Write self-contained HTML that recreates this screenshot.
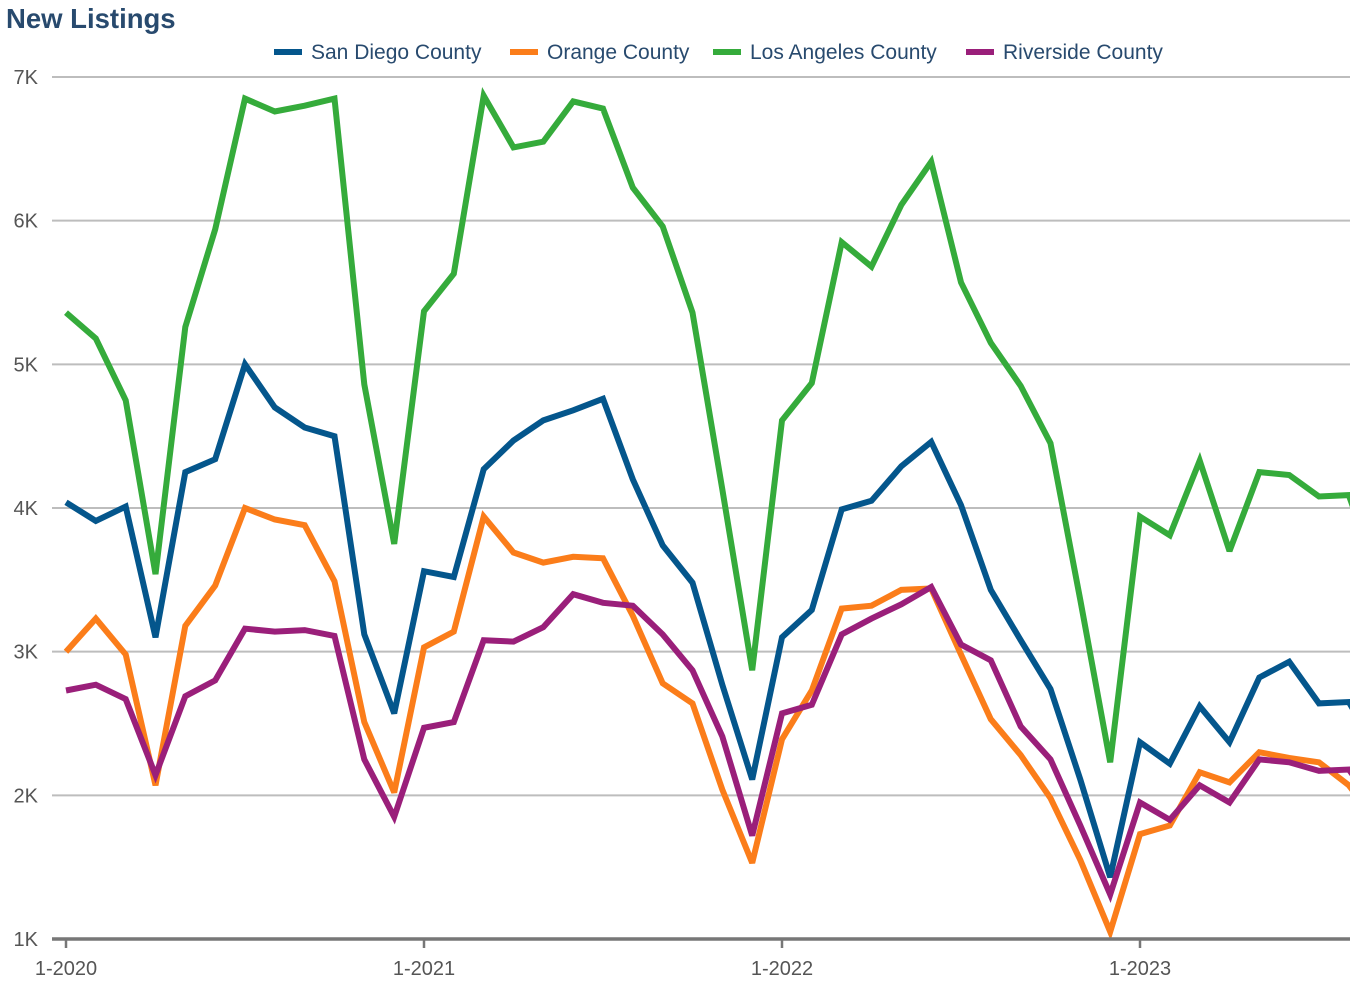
<!DOCTYPE html>
<html><head><meta charset="utf-8"><style>
html,body{margin:0;padding:0;background:#fff;}
body{width:1350px;height:982px;overflow:hidden;font-family:"Liberation Sans",sans-serif;}
</style></head><body>
<svg id="chart" width="1350" height="982" xmlns="http://www.w3.org/2000/svg" style="position:absolute;left:0;top:0">
<text x="6" y="28" font-size="27.5" font-weight="bold" fill="#284a6e" font-family="Liberation Sans, sans-serif">New Listings</text>
<g id="legend"></g>
<g id="grid"></g>
<g id="series"></g>
<g id="axes"></g>
</svg>
<script>
const seriesNames = ["San Diego County","Orange County","Los Angeles County","Riverside County"];
const seriesColors = ["#04568c","#fb7d1a","#35ab3b","#9a1f7a"];
const sanDiego = [4.04,3.91,4.01,3.10,4.25,4.34,5.00,4.70,4.56,4.50,3.12,2.57,3.56,3.52,4.27,4.47,4.61,4.68,4.76,4.20,3.74,3.48,2.77,2.11,3.10,3.29,3.99,4.05,4.29,4.46,4.02,3.43,3.08,2.74,2.11,1.43,2.37,2.22,2.62,2.37,2.82,2.93,2.64,2.65,2.3];
const orange = [3.00,3.23,2.98,2.07,3.18,3.46,4.00,3.92,3.88,3.49,2.51,2.02,3.03,3.14,3.94,3.69,3.62,3.66,3.65,3.25,2.78,2.64,2.04,1.53,2.39,2.73,3.30,3.32,3.43,3.44,2.98,2.53,2.28,1.98,1.55,1.05,1.73,1.79,2.16,2.09,2.30,2.26,2.23,2.07,1.8];
const losAngeles = [5.36,5.18,4.75,3.54,5.26,5.94,6.85,6.76,6.80,6.85,4.86,3.75,5.37,5.63,6.87,6.51,6.55,6.83,6.78,6.23,5.96,5.36,4.13,2.87,4.61,4.87,5.85,5.68,6.11,6.41,5.57,5.15,4.85,4.45,3.36,2.23,3.94,3.81,4.33,3.70,4.25,4.23,4.08,4.09,3.5];
const riverside = [2.73,2.77,2.67,2.14,2.69,2.80,3.16,3.14,3.15,3.11,2.25,1.85,2.47,2.51,3.08,3.07,3.17,3.40,3.34,3.32,3.12,2.87,2.41,1.72,2.57,2.63,3.12,3.23,3.33,3.45,3.05,2.94,2.48,2.25,1.79,1.31,1.95,1.83,2.07,1.95,2.25,2.23,2.17,2.18,1.9];
const yTicks = [1,2,3,4,5,6,7];
const yTickLabels = ["1K","2K","3K","4K","5K","6K","7K"];
const xTicks = [0,12,24,36];
const xTickLabels = ["1-2020","1-2021","1-2022","1-2023"];

const NS="http://www.w3.org/2000/svg";
const X0=66, MONTH=358/12, Y7=77, Y1=939;
function xs(i){return X0+MONTH*i;}
function ys(v){return Y1-(v-1)*(Y1-Y7)/6;}
function mk(tag,attrs,parent){const e=document.createElementNS(NS,tag);for(const k in attrs)e.setAttribute(k,attrs[k]);parent.appendChild(e);return e;}
const grid=document.getElementById('grid'),axes=document.getElementById('axes'),ser=document.getElementById('series'),leg=document.getElementById('legend');
yTicks.forEach((v,i)=>{
  if(v>1){const l=mk('line',{x1:52,x2:1350,y1:ys(v),y2:ys(v),stroke:'#bdbdbd','stroke-width':2},grid);
  
  }
  const t=mk('text',{x:38,y:ys(v)+7,'text-anchor':'end','font-size':20,fill:'#555'},axes);
  t.textContent=yTickLabels[i];
  
  
});
const ax=mk('line',{x1:52,x2:1350,y1:Y1,y2:Y1,stroke:'#777','stroke-width':3.5},axes);


xTicks.forEach((m,i)=>{
  const tk=mk('line',{x1:xs(m),x2:xs(m),y1:Y1,y2:Y1+9,stroke:'#777','stroke-width':2.5},axes);
  
  
  const t=mk('text',{x:xs(m),y:975,'text-anchor':'middle','font-size':20,fill:'#555'},axes);
  t.textContent=xTickLabels[i];
  
  
});
const allSeries=[sanDiego,orange,losAngeles,riverside];
const drawOrder=[2,0,1,3];
drawOrder.forEach(s=>{
  const d=allSeries[s].map((v,i)=>(i?'L':'M')+xs(i).toFixed(1)+','+ys(v).toFixed(1)).join(' ');
  const p=mk('path',{d:d,fill:'none',stroke:seriesColors[s],'stroke-width':6,'stroke-linejoin':'miter','stroke-miterlimit':3},ser);
  
  
});
const legX=[274,510,713,966];
seriesNames.forEach((n,i)=>{
  const g=mk('g',{},leg);
  
  
  mk('line',{x1:legX[i],x2:legX[i]+28,y1:52,y2:52,stroke:seriesColors[i],'stroke-width':6},g);
  const t=mk('text',{x:legX[i]+37,y:59,'font-size':21,fill:'#284a6e'},g);
  t.textContent=n;
});
</script>
</body></html>
